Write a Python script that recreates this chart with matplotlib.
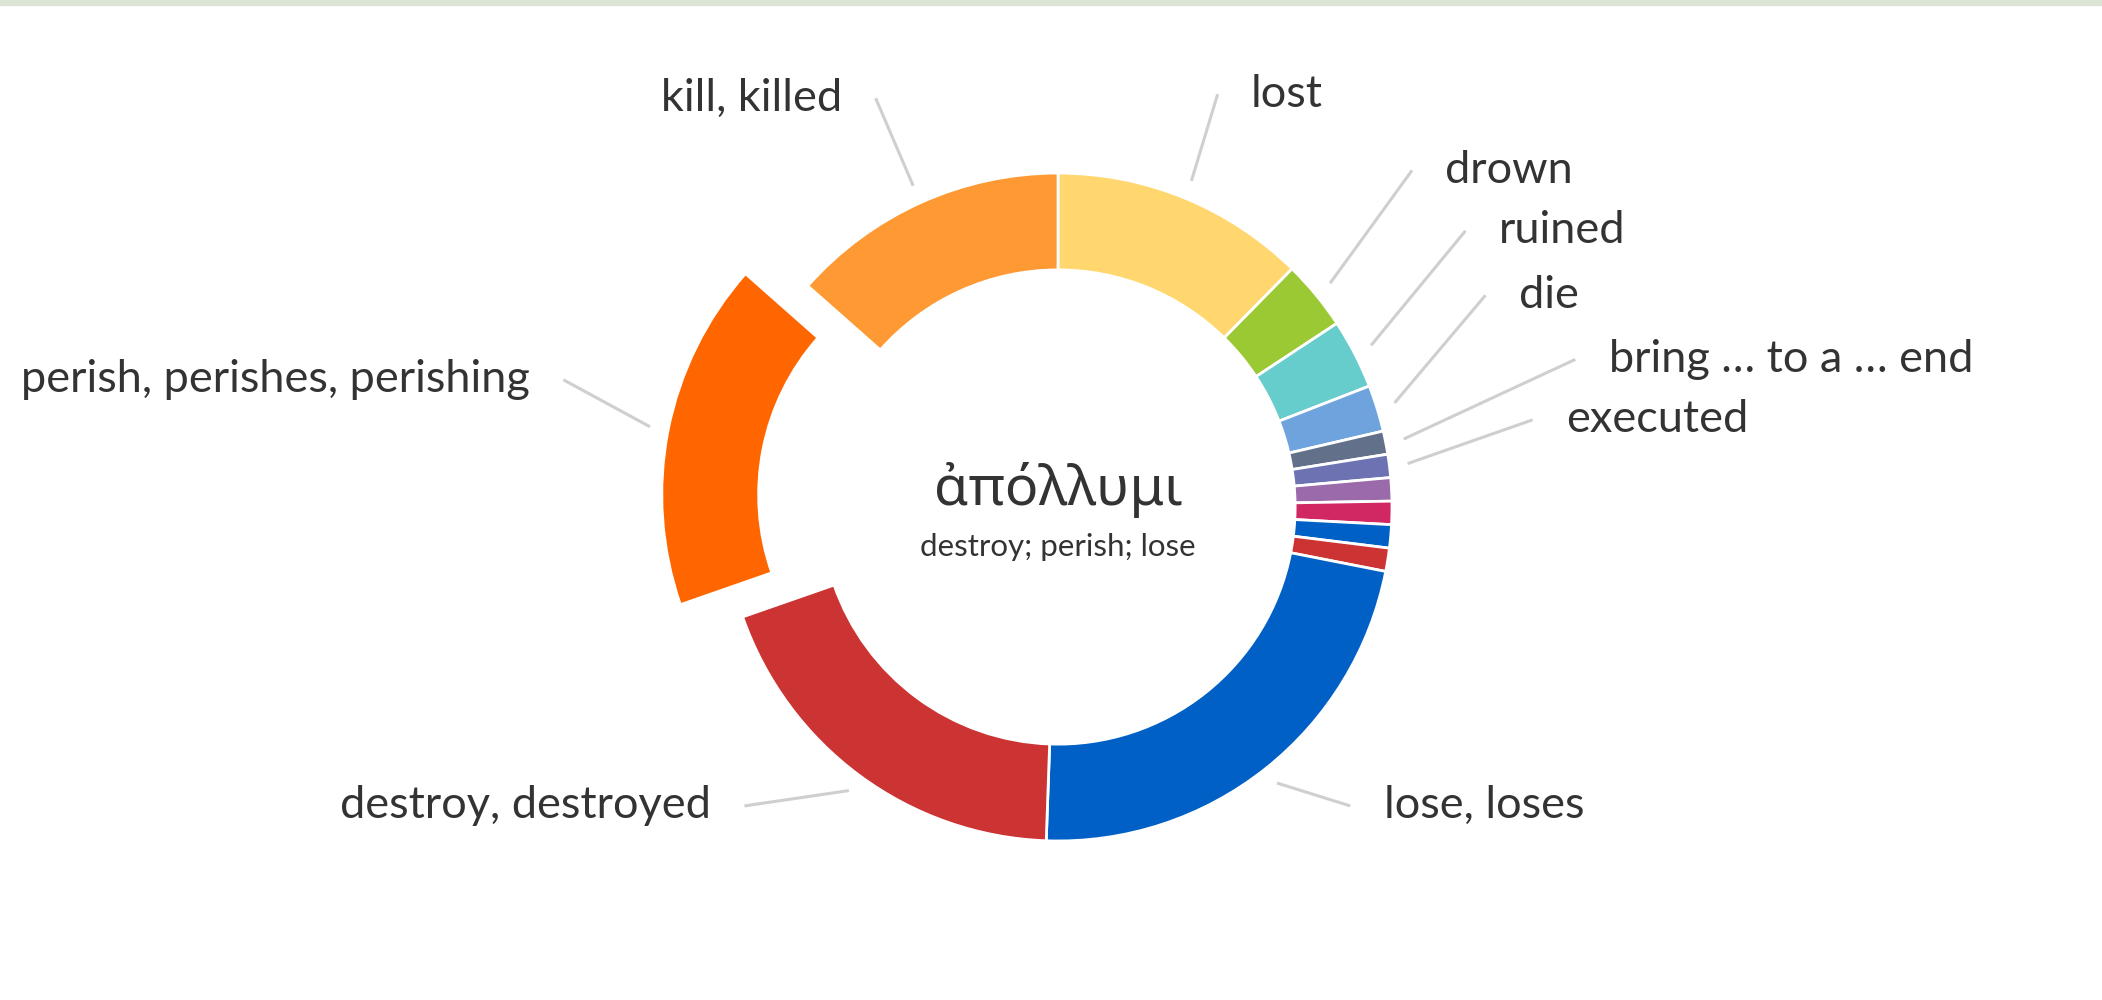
import numpy as np
import matplotlib.pyplot as plt
from matplotlib.patches import Rectangle

# Renderings of ἀπόλλυμι (counts, clockwise from top)
labels = ['lost', 'drown', 'ruined', 'die', 'bring … to a … end', 'executed',
          '', '', '', '', 'lose, loses', 'destroy, destroyed',
          'perish, perishes, perishing', 'kill, killed']
counts = [11, 3, 3, 2, 1, 1, 1, 1, 1, 1, 20, 17, 15, 12]
colors = ['#ffd76e', '#9bc934', '#66cccc', '#6ea3de', '#62708a', '#6d72b3',
          '#9a6aaa', '#d12762', '#0060c5', '#cc3333', '#0060c5', '#cc3333',
          '#ff6600', '#ff9933']
explode = [0, 0, 0, 0, 0, 0, 0, 0, 0, 0, 0, 0, 0.19, 0]

# where each label's leader line ends (data units, radius = 1) and which side the text sits
label_pos = {
    'lost': (0.478, 1.236, 'left'),
    'drown': (1.060, 1.008, 'left'),
    'ruined': (1.220, 0.827, 'left'),
    'die': (1.280, 0.634, 'left'),
    'bring … to a … end': (1.549, 0.442, 'left'),
    'executed': (1.421, 0.261, 'left'),
    'lose, loses': (0.875, -0.895, 'left'),
    'destroy, destroyed': (-0.939, -0.895, 'right'),
    'perish, perishes, perishing': (-1.481, 0.381, 'right'),
    'kill, killed': (-0.546, 1.224, 'right'),
}

plt.rcParams['font.family'] = ['Lato', 'Noto Sans', 'DejaVu Sans']
text_color = '#333333'

fig = plt.figure(figsize=(21.02, 10), dpi=100)
ax = fig.add_axes([0, 0, 1, 1])

wedges, _ = ax.pie(counts, colors=colors, explode=explode, startangle=90,
                   counterclock=False, radius=1,
                   wedgeprops=dict(width=0.29, edgecolor='white', linewidth=2))

for w, lab in zip(wedges, labels):
    if not lab:
        continue
    mid = np.deg2rad((w.theta1 + w.theta2) / 2)
    cx, cy = w.center
    x0 = cx + 1.055 * np.cos(mid)
    y0 = cy + 1.055 * np.sin(mid)
    x1, y1, side = label_pos[lab]
    ax.plot([x0, x1], [y0, y1], color='#cfcfcf', lw=2.2, solid_capstyle='butt')
    dx = 0.1 if side == 'left' else -0.1
    ax.text(x1 + dx, y1, lab, ha=side, va='center', fontsize=32.5, color=text_color)

ax.text(0, 0.05, 'ἀπόλλυμι', ha='center', va='center', fontsize=40,
        color=text_color, family=['Noto Sans', 'DejaVu Sans'])
ax.text(0, -0.12, 'destroy; perish; lose', ha='center', va='center', fontsize=22.5,
        color=text_color)

ax.set_xlim(-3.168, 3.126)
ax.set_ylim(-1.476, 1.518)
ax.set_aspect('equal')
ax.axis('off')

# thin band along the top edge
fig.patches.append(Rectangle((0, 0.995), 1, 0.005, transform=fig.transFigure,
                             color='#dce4d5', zorder=0))

fig.savefig('out.png', dpi=100, facecolor='white')
